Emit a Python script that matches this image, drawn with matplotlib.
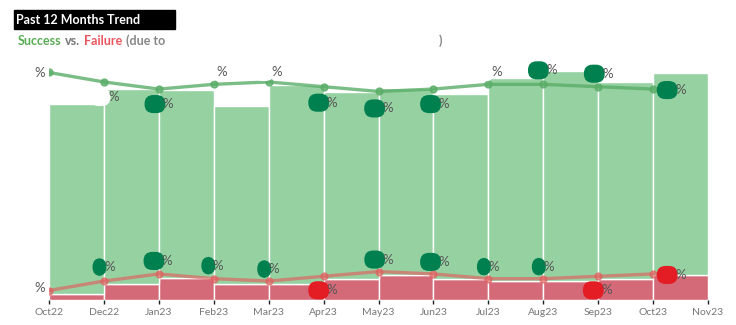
import matplotlib.pyplot as plt
from matplotlib.patches import Rectangle

# Monthly volumes (stacked bars) and success / failure rates (lines)
tick_labels = ["Oct22", "Dec22", "Jan23", "Feb23", "Mar23", "Apr23", "May23",
               "Jun23", "Jul23", "Aug23", "Sep23", "Oct23", "Nov23"]
success_cnt = [950, 975, 940, 890, 995, 935, 935, 925, 1015, 1050, 985, 1010]
failure_cnt = [30, 80, 110, 80, 80, 105, 125, 105, 95, 95, 105, 125]
success_pct = [96, 92, 89, 91, 92, 90, 88, 89, 91, 91, 90, 89]
failure_pct = [4, 8, 11, 9, 8, 10, 12, 11, 9, 9, 10, 11]

# label placement (pixel offsets of the "%" sign from each point) and cover colours
DKGREEN, BLOBRED, WHITE = "#00804f", "#e41c23", "white"
succ_off = [(-15, -1), (4, -15), (4, -15), (3, 12), (3, 10), (3, -16),
            (4, -17), (5, -15), (3, 12), (3, 14), (4, 13), (22, -1)]
succ_cover = [WHITE, WHITE, DKGREEN, WHITE, WHITE, DKGREEN,
              DKGREEN, DKGREEN, WHITE, DKGREEN, DKGREEN, DKGREEN]
fail_off = [(-15, 3), (0, 14), (3, 13), (-1, 13), (0, 12), (3, -14),
            (4, 12), (5, 12), (0, 12), (0, 12), (3, -14), (22, -1)]
fail_cover = [WHITE, DKGREEN, DKGREEN, DKGREEN, DKGREEN, BLOBRED,
              DKGREEN, DKGREEN, DKGREEN, DKGREEN, BLOBRED, BLOBRED]

plt.rcParams["font.family"] = ["Lato", "DejaVu Sans"]

fig = plt.figure(figsize=(7.36, 3.25), dpi=100)
ax = fig.add_axes([49 / 736, 25 / 325, 659 / 736, 237 / 325])

n = len(success_cnt)
pos = list(range(n))
ax.bar([p + 0.5 for p in pos], failure_cnt, width=1.0, color="#d46a77",
       edgecolor="white", linewidth=1)
ax.bar([p + 0.5 for p in pos], success_cnt, width=1.0, bottom=failure_cnt,
       color="#96d1a1", edgecolor="white", linewidth=1)
ax.set_xlim(0, n)
ax.set_ylim(0, 1185)
ax.set_xticks(range(len(tick_labels)))
ax.set_xticklabels(tick_labels, color="#777777", fontsize=7.5)
ax.tick_params(axis="x", length=3, width=1, color="#222222", pad=3)
ax.set_yticks([])
for s in ax.spines.values():
    s.set_visible(False)

ax2 = ax.twinx()
ax2.set_ylim(0, 100)
ax2.set_yticks([])
for s in ax2.spines.values():
    s.set_visible(False)
ax2.plot(pos, success_pct, color="#5aad68", lw=2.4, alpha=0.8,
         marker="o", ms=5, solid_capstyle="round")
ax2.plot(pos, failure_pct, color="#e0605f", lw=2.4, alpha=0.65,
         marker="o", ms=5, solid_capstyle="round")


def put_label(x, y, value, off, cover):
    dx, dy = off
    ax2.annotate(str(value), (x, y), xytext=(dx - 1, dy), textcoords="offset pixels",
                 ha="right", va="center", fontsize=8.5, color=cover,
                 bbox=dict(boxstyle="round,pad=0.3,rounding_size=0.75",
                           fc=cover, ec="none"),
                 annotation_clip=False, zorder=5)
    ax2.annotate("%", (x, y), xytext=(dx, dy), textcoords="offset pixels",
                 ha="left", va="center", fontsize=9.5, color="#555555",
                 annotation_clip=False, zorder=6)


for i in pos:
    put_label(i, success_pct[i], success_pct[i], succ_off[i], succ_cover[i])
    put_label(i, failure_pct[i], failure_pct[i], fail_off[i], fail_cover[i])

# title block
fig.patches.append(Rectangle((14 / 736, 1 - 29 / 325), 161 / 736, 19 / 325,
                             transform=fig.transFigure, color="black"))
fig.text(16 / 736, 1 - 20 / 325, "Past 12 Months Trend", color="white",
         fontsize=9, fontweight="bold", va="center")

y_sub = 1 - 41 / 325
fig.text(18 / 736, y_sub, "Success", color="#5aab55", fontsize=9, fontweight="bold", va="center")
fig.text(65 / 736, y_sub, "vs.", color="#777777", fontsize=9, fontweight="bold", va="center")
fig.text(84 / 736, y_sub, "Failure", color="#e8555f", fontsize=9, fontweight="bold", va="center")
fig.text(126 / 736, y_sub, "(due to", color="#888888", fontsize=9, fontweight="bold", va="center")
fig.text(439 / 736, y_sub, ")", color="#888888", fontsize=9, fontweight="bold", va="center")

fig.savefig("out.png", dpi=100)
